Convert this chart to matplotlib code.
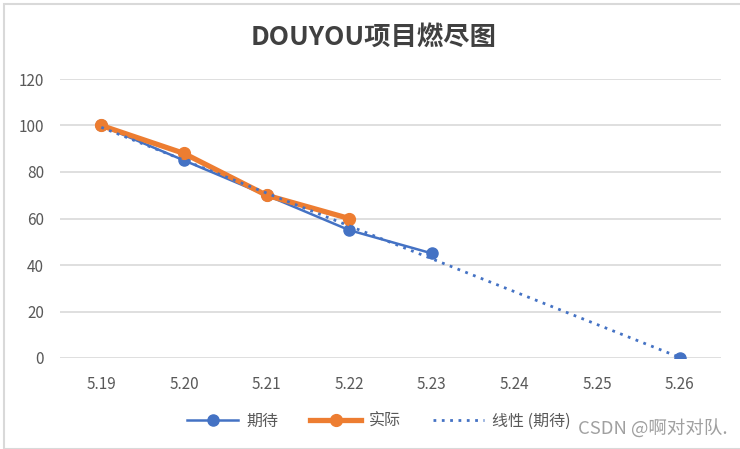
import numpy as np
import matplotlib
matplotlib.use("Agg")
import matplotlib.pyplot as plt
from matplotlib.patches import Rectangle

plt.rcParams['font.family'] = ['Noto Sans CJK SC', 'DejaVu Sans']

categories = ["5.19", "5.20", "5.21", "5.22", "5.23", "5.24", "5.25", "5.26"]
expected = [100, 85, 70, 55, 45, np.nan, np.nan, 0]
actual = [100, 88, 70, 60, np.nan, np.nan, np.nan, np.nan]
title = "DOUYOU项目燃尽图"
yticks = [0, 20, 40, 60, 80, 100, 120]

BLUE = "#4472C4"
ORANGE = "#ED7D31"
GRAY = "#595959"

fig = plt.figure(figsize=(7.4, 4.49), dpi=100)
# Excel-like frame
fig.patches.append(Rectangle((4/740, 0), 1, 1 - 4/449, transform=fig.transFigure,
                             fill=False, edgecolor="#d9d9d9", linewidth=1.5))
ax = fig.add_axes([60/740, 1 - 358/449, 661/740, 279/449])

x = np.arange(len(categories))
exp_arr = np.array(expected, dtype=float)
act_arr = np.array(actual, dtype=float)

# linear trendline of expected
mask = ~np.isnan(exp_arr)
coef = np.polyfit(x[mask], exp_arr[mask], 1)
trend = np.polyval(coef, x)

ax.plot(x, exp_arr, color=BLUE, linewidth=1.8, marker="o", markersize=8, label="期待", zorder=3)
ax.plot(x, act_arr, color=ORANGE, linewidth=3.8, marker="o", markersize=8.5, label="实际", zorder=4)
ax.plot(x, trend, color=BLUE, linewidth=2, linestyle=(0, (1, 2)), label="线性 (期待)", zorder=5)

ax.set_xlim(-0.5, len(categories) - 0.5)
ax.set_ylim(0, 120)
ax.set_yticks(yticks)
ax.set_xticks(x)
ax.set_xticklabels(categories)
ax.grid(axis="y", color="#d9d9d9", linewidth=1.2)
ax.set_axisbelow(True)
for s in ax.spines.values():
    s.set_visible(False)
ax.tick_params(axis="both", length=0, labelcolor=GRAY, labelsize=11)
ax.tick_params(axis="x", pad=13)
ax.tick_params(axis="y", pad=11.5)

fig.text(374/740, 1 - 37/449, title, ha="center", va="center", fontsize=19,
         fontweight="bold", color="#404040")

leg = ax.legend(loc="center", bbox_to_anchor=(379/740, 1 - 421/449), bbox_transform=fig.transFigure,
                ncol=3, frameon=False, fontsize=11.5, handlelength=3.2, columnspacing=2.0,
                handletextpad=0.5)
for t in leg.get_texts():
    t.set_color(GRAY)

fig.text(728/740, 1 - 429/449, "CSDN @啊对对队.", ha="right", va="center", fontsize=13.3,
         color="#a0a0a0")

fig.savefig("out.png", dpi=100)
